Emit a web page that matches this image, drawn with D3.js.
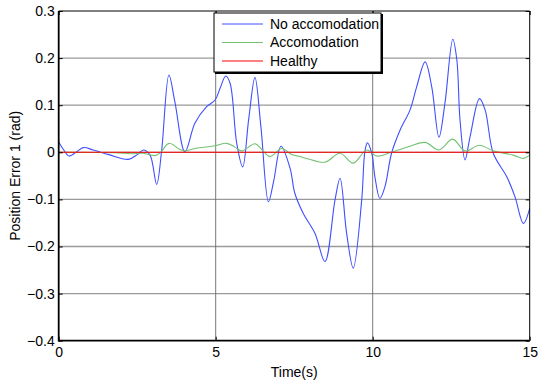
<!DOCTYPE html>
<html>
<head>
<meta charset="utf-8">
<script src="https://cdn.jsdelivr.net/npm/d3@7"></script>
<style>
  body { margin: 0; background: #fff; }
  svg { display: block; font-family: Arial, "Liberation Sans", sans-serif; }
</style>
</head>
<body>
<svg id="chart" width="538" height="385"></svg>
<script>
// series data
const noAccT = [0, 0.15, 0.33, 0.55, 0.78, 1.1, 1.6, 2.22, 2.5, 2.7, 2.91, 3.12, 3.28, 3.51, 3.7, 4.02, 4.34, 4.71, 4.98, 5.14, 5.32, 5.46, 5.67, 5.86, 6.05, 6.25, 6.44, 6.68, 6.85, 7.08, 7.37, 7.52, 7.79, 8.16, 8.48, 8.8, 8.96, 9.17, 9.38, 9.65, 9.75, 9.83, 9.97, 10.07, 10.23, 10.39, 10.6, 10.87, 11.19, 11.4, 11.67, 11.88, 12.11, 12.3, 12.55, 12.68, 12.78, 12.94, 13.1, 13.4, 13.58, 13.84, 14.27, 14.53, 14.8, 15]
const noAccV = [0.022, 0.006, -0.008, 0.0, 0.01, 0.005, -0.005, -0.015, -0.005, 0.005, -0.006, -0.068, 0.005, 0.164, 0.107, 0.001, 0.062, 0.097, 0.111, 0.136, 0.162, 0.146, 0.019, -0.031, 0.07, 0.159, 0.054, -0.105, -0.06, 0.013, -0.034, -0.087, -0.13, -0.172, -0.232, -0.101, -0.055, -0.172, -0.246, -0.101, 0.001, 0.02, -0.002, -0.052, -0.098, -0.073, -0.002, 0.047, 0.09, 0.139, 0.192, 0.139, 0.032, 0.104, 0.24, 0.196, 0.069, -0.016, 0.033, 0.114, 0.09, -0.002, -0.052, -0.094, -0.151, -0.119]

const accT = [0, 1.8, 2.3, 2.7, 3.07, 3.25, 3.51, 3.86, 4.02, 4.34, 4.98, 5.35, 5.61, 5.83, 6.25, 6.48, 6.73, 7.1, 7.4, 7.68, 7.9, 8.48, 8.96, 9.38, 9.81, 10.13, 10.55, 11.19, 11.67, 12.11, 12.55, 12.94, 13.4, 13.84, 14.48, 14.8, 15]
const accV = [0, -0.001, -0.003, -0.002, -0.007, 0.0, 0.019, 0.006, 0.003, 0.008, 0.014, 0.019, 0.011, 0.003, 0.018, 0.005, -0.009, 0.008, -0.004, -0.009, -0.013, -0.021, -0.002, -0.023, 0.005, -0.008, -0.001, 0.013, 0.021, 0.005, 0.028, 0.003, 0.015, 0.003, -0.006, -0.013, -0.006]

const healthyT = [0, 15]
const healthyV = [0, 0]

const xTicks = [0, 5, 10, 15]
const yTicks = [-0.4, -0.3, -0.2, -0.1, 0, 0.1, 0.2, 0.3]
const seriesNames = ['No accomodation', 'Accomodation', 'Healthy']
const seriesColors = ['#3f4fff', '#72c272', '#ff0000']

const margin = { left: 58.7, right: 8.3, top: 11, bottom: 44.3 }
const width = 538, height = 385

const svg = d3.select('#chart')
const x = d3.scaleLinear().domain([0, 15]).range([margin.left, width - margin.right])
const y = d3.scaleLinear().domain([-0.4, 0.3]).range([height - margin.bottom, margin.top])

const [x0, x1] = x.range()
const [y0, y1] = y.range()

// grid
svg.append('g')
    .selectAll('line')
    .data(yTicks.slice(1, -1))
    .join('line')
    .attr('x1', x0).attr('x2', x1)
    .attr('y1', d => y(d)).attr('y2', d => y(d))
    .attr('stroke', '#9a9a9a')
    .attr('stroke-width', 1.3)

svg.append('g')
    .selectAll('line')
    .data(xTicks.slice(1, -1))
    .join('line')
    .attr('x1', d => x(d)).attr('x2', d => x(d))
    .attr('y1', y1).attr('y2', y0)
    .attr('stroke', '#6a6a6a')
    .attr('stroke-width', 0.9)

// lines
const toPoints = (ts, vs) => ts.map((t, i) => [t, vs[i]])
const line = d3.line()
    .x(d => x(d[0]))
    .y(d => y(d[1]))
    .curve(d3.curveCatmullRom.alpha(0.5))

const series = [
    toPoints(noAccT, noAccV),
    toPoints(accT, accV),
    toPoints(healthyT, healthyV)
]

svg.append('g')
    .selectAll('path')
    .data(series)
    .join('path')
    .attr('d', line)
    .attr('fill', 'none')
    .attr('stroke', (d, i) => seriesColors[i])
    .attr('stroke-width', 1.1)

// axes, ticks pointing inward
const fontSize = '14px'
const yAxis = svg.append('g')
    .attr('transform', `translate(${x0},0)`)
    .call(d3.axisLeft(y).tickValues(yTicks).tickSize(-4).tickPadding(4).tickFormat(d3.format('.1f')))
yAxis.select('.domain').remove()
yAxis.selectAll('text').text(d => d === 0 ? '0' : d3.format('.1f')(d))

const yAxisR = svg.append('g')
    .attr('transform', `translate(${x1},0)`)
    .call(d3.axisRight(y).tickValues(yTicks).tickSize(-4).tickFormat(''))
yAxisR.select('.domain').remove()

const xAxis = svg.append('g')
    .attr('transform', `translate(0,${y0})`)
    .call(d3.axisBottom(x).tickValues(xTicks).tickSize(-4).tickPadding(6).tickFormat(d3.format('d')))
xAxis.select('.domain').remove()

const xAxisT = svg.append('g')
    .attr('transform', `translate(0,${y1})`)
    .call(d3.axisTop(x).tickValues(xTicks).tickSize(-4).tickFormat(''))
xAxisT.select('.domain').remove()

svg.selectAll('.tick text')
    .attr('font-size', fontSize)
    .attr('font-family', 'Arial, "Liberation Sans", sans-serif')
    .attr('fill', '#000')
svg.selectAll('.tick line').attr('stroke', '#000')

// box
svg.append('line').attr('x1', x0).attr('x2', x1).attr('y1', y1).attr('y2', y1).attr('stroke', '#000').attr('stroke-width', 1)
svg.append('line').attr('x1', x1).attr('x2', x1).attr('y1', y1).attr('y2', y0).attr('stroke', '#000').attr('stroke-width', 1)
svg.append('line').attr('x1', x0).attr('x2', x1).attr('y1', y0).attr('y2', y0).attr('stroke', '#000').attr('stroke-width', 1.8)
svg.append('line').attr('x1', x0).attr('x2', x0).attr('y1', y1).attr('y2', y0 + 0.9).attr('stroke', '#000').attr('stroke-width', 1.8)

// axis labels
svg.append('text')
    .attr('x', (x0 + x1) / 2)
    .attr('y', 377)
    .attr('text-anchor', 'middle')
    .attr('font-size', fontSize)
    .text('Time(s)')

svg.append('text')
    .attr('transform', `translate(20,${(y0 + y1) / 2}) rotate(-90)`)
    .attr('text-anchor', 'middle')
    .attr('font-size', fontSize)
    .text('Position Error 1 (rad)')

// legend
const lg = svg.append('g').attr('transform', 'translate(214,13)')
lg.append('rect')
    .attr('x', 1).attr('y', 1)
    .attr('width', 168).attr('height', 60)
    .attr('fill', '#000')
lg.append('rect')
    .attr('x', 0).attr('y', 0)
    .attr('width', 167).attr('height', 59)
    .attr('fill', '#fff')
    .attr('stroke', '#000')
    .attr('stroke-width', 1)

const rows = lg.selectAll('g.row')
    .data(seriesNames)
    .join('g')
    .attr('class', 'row')
    .attr('transform', (d, i) => `translate(0,${11 + i * 18.5})`)
rows.append('line')
    .attr('x1', 8).attr('x2', 49)
    .attr('stroke', (d, i) => seriesColors[i])
    .attr('stroke-width', 1)
rows.append('text')
    .attr('x', 56)
    .attr('dy', '0.35em')
    .attr('font-size', fontSize)
    .text(d => d)
</script>
</body>
</html>
